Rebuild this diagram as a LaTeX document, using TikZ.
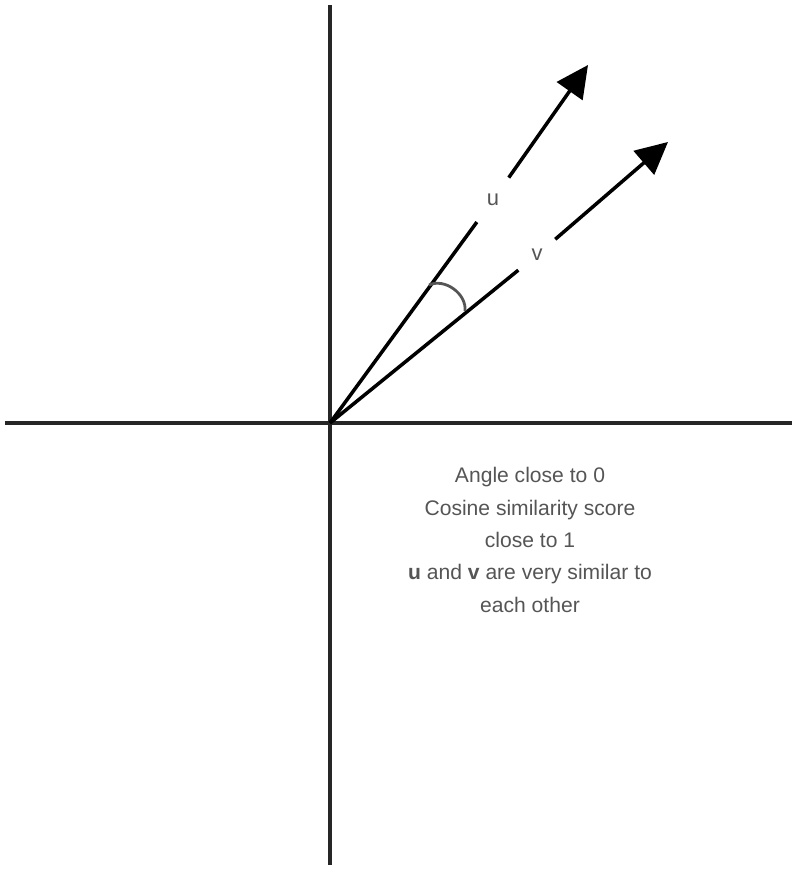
\documentclass[tikz,border=0pt]{standalone}
\usepackage{fontspec}
\setmainfont{Liberation Sans}
\usetikzlibrary{arrows.meta}
\definecolor{TxtGray}{HTML}{555555}

\begin{document}
\begin{tikzpicture}[
  x=0.02cm, y=0.02cm,
  axis/.style  = {line width=2.1pt, draw=black!85},
  vec/.style   = {line width=2pt, draw=black},
  tip/.style   = {-{Triangle[length=0.64cm, width=0.62cm]}},
  lbl/.style   = {circle, inner sep=0pt, font=\fontsize{12.5}{14}\selectfont, text=TxtGray},
  note/.style  = {align=center, font=\fontsize{12}{18.4}\selectfont, text=TxtGray},
  angarc/.style= {line width=1.6pt, draw=TxtGray}
]
\useasboundingbox (0,0) rectangle (796,871);

% Axes
\coordinate (O)     at (330,448);
\coordinate (ytop)  at (330,866);
\coordinate (ybot)  at (330,6);
\coordinate (xleft) at (5,448);
\coordinate (xright)at (792,448);
\draw[axis] (ybot) -- (ytop);
\draw[axis] (xleft) -- (xright);

% Vectors u and v
\coordinate (utip) at (588,806);
\coordinate (vtip) at (668,729);
\node[lbl, minimum size=1.08cm] (ulbl) at (493,671) {u};
\node[lbl, minimum size=0.95cm] (vlbl) at (537,616) {v};
\draw[vec] (O) -- (ulbl);
\draw[vec, tip] (ulbl) -- (utip);
\draw[vec] (O) -- (vlbl);
\draw[vec, tip] (vlbl) -- (vtip);

% Angle between u and v
\coordinate (ua) at (429,586);
\coordinate (va) at (465,560);
\draw[angarc] (ua) to[bend left=60] (va);

% Caption
\node[note] (cap) at (530,331) {Angle close to 0\\Cosine similarity score\\close to 1\\\textbf{u} and \textbf{v} are very similar to\\each other};
\end{tikzpicture}
\end{document}
